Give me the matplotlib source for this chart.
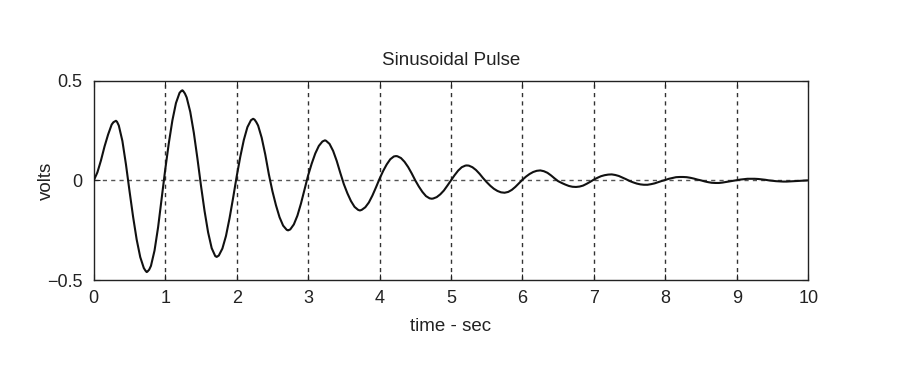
import numpy as np
import matplotlib
matplotlib.use('Agg')
import matplotlib.pyplot as plt

plt.rcParams['font.family'] = ['Liberation Sans', 'DejaVu Sans']

# time axis (sec), 0.05 s step
t_grid = np.arange(201) * 0.05

# volts, one value per 0.05 s
v_grid = [
    0.000, 0.040, 0.100, 0.170, 0.230, 0.280, 0.297, 0.275, 0.198, 0.080,
    -0.054, -0.183, -0.297, -0.385, -0.440, -0.458, -0.429, -0.352, -0.235, -0.092,
    0.055, 0.187, 0.301, 0.388, 0.439, 0.449, 0.416, 0.344, 0.239, 0.111,
    -0.026, -0.153, -0.261, -0.340, -0.380, -0.377, -0.342, -0.279, -0.190, -0.088,
    0.020, 0.118, 0.203, 0.267, 0.302, 0.305, 0.275, 0.214, 0.130, 0.031,
    -0.054, -0.125, -0.185, -0.227, -0.248, -0.246, -0.221, -0.177, -0.116, -0.045,
    0.025, 0.084, 0.135, 0.173, 0.195, 0.199, 0.183, 0.148, 0.098, 0.038,
    -0.019, -0.065, -0.104, -0.133, -0.148, -0.148, -0.135, -0.111, -0.076, -0.035,
    0.008, 0.047, 0.080, 0.106, 0.120, 0.121, 0.112, 0.093, 0.067, 0.035,
    0.000, -0.031, -0.058, -0.079, -0.090, -0.091, -0.084, -0.070, -0.051, -0.026,
    0.000, 0.026, 0.049, 0.066, 0.074, 0.074, 0.066, 0.052, 0.033, 0.011,
    -0.009, -0.027, -0.042, -0.053, -0.060, -0.062, -0.058, -0.048, -0.033, -0.015,
    0.003, 0.019, 0.032, 0.042, 0.048, 0.050, 0.046, 0.038, 0.025, 0.010,
    -0.004, -0.013, -0.021, -0.028, -0.032, -0.033, -0.031, -0.026, -0.017, -0.007,
    0.004, 0.013, 0.021, 0.026, 0.029, 0.030, 0.027, 0.022, 0.014, 0.006,
    -0.003, -0.010, -0.016, -0.020, -0.022, -0.022, -0.019, -0.015, -0.009, -0.003,
    0.002, 0.008, 0.012, 0.016, 0.017, 0.017, 0.016, 0.013, 0.009, 0.004,
    0.000, -0.005, -0.009, -0.012, -0.013, -0.013, -0.011, -0.008, -0.005, -0.002,
    0.001, 0.004, 0.006, 0.008, 0.008, 0.008, 0.007, 0.005, 0.003, 0.000,
    -0.002, -0.004, -0.005, -0.006, -0.006, -0.005, -0.004, -0.003, -0.002, -0.001,
    0.000,
]

# peaks / troughs and their shoulders (between grid samples)
t_peak = [0.275, 0.31, 0.325, 0.725, 0.74, 0.775, 1.225, 1.24, 1.275,
          1.72, 1.725, 2.225, 2.23, 2.275, 2.72, 2.725, 3.235, 3.725,
          4.23, 4.73, 5.22]
v_peak = [0.292, 0.299, 0.294, -0.454, -0.460, -0.448, 0.449, 0.452, 0.436,
          -0.384, -0.383, 0.308, 0.309, 0.292, -0.251, -0.250, 0.201, -0.151,
          0.122, -0.092, 0.075]

t = np.concatenate([t_grid, t_peak])
volts = np.concatenate([v_grid, v_peak])
order = np.argsort(t)
t, volts = t[order], volts[order]

xticks = list(range(11))
yticks = [-0.5, 0, 0.5]
yticklabels = ['\u22120.5', '0', '0.5']

fig = plt.figure(figsize=(9.02, 3.67), dpi=100, facecolor='w')
ax = fig.add_axes([0.104, 0.237, 0.792, 0.543])

ax.plot(t, volts, color='#111111', lw=1.5, zorder=3)

# grid (matlab style dashed)
for xv in xticks[1:-1]:
    ax.axvline(xv, color='#333333', lw=1.0, ls=(0, (3, 3)), zorder=1)
ax.axhline(0, color='#555555', lw=1.0, ls=(0, (3, 3)), zorder=1)

ax.set_xlim(0, 10)
ax.set_ylim(-0.5, 0.5)
ax.set_xticks(xticks)
ax.set_yticks(yticks)
ax.set_yticklabels(yticklabels)
ax.tick_params(direction='in', length=4, top=True, right=True,
               labelsize=13, colors='#222222')
ax.tick_params(axis='x', pad=7)
ax.tick_params(axis='y', pad=8)
for s in ax.spines.values():
    s.set_color('#222222')
    s.set_linewidth(1.0)

ax.set_title('Sinusoidal Pulse', fontsize=13.5, color='#222222', pad=11)
ax.set_xlabel('time - sec', fontsize=13.5, color='#222222', labelpad=8)
ax.set_ylabel('volts', fontsize=13.5, color='#222222')
ax.yaxis.set_label_coords(-0.054, 0.5)

plt.savefig('out.png', dpi=100)
